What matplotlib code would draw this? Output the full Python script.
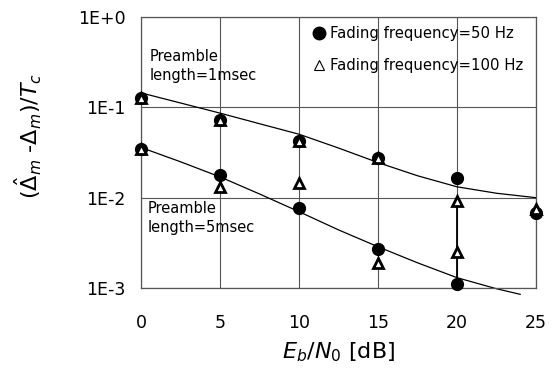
import numpy as np
import matplotlib.pyplot as plt
from matplotlib.lines import Line2D

plt.rcParams['font.family'] = ['DejaVu Sans']
plt.rcParams['mathtext.fontset'] = 'dejavusans'

# Eb/N0 [dB]
snr = [0, 5, 10, 15, 20, 25]
snr_5ms = [0, 5, 10, 15, 20]

# measured points, preamble 1 msec
f50_1ms = [0.127, 0.072, 0.042, 0.0275, 0.0165, 0.0068]
f100_1ms = [0.127, 0.072, 0.042, 0.0275, 0.0092, 0.0075]

# measured points, preamble 5 msec
f50_5ms = [0.035, 0.0178, 0.0077, 0.0027, 0.0011]
f100_5ms = [0.035, 0.0132, 0.0145, 0.0019, 0.0025]

# theory curves
fit_x_1ms = [0, 2.5, 5, 7.5, 10, 12.5, 15, 17.5, 20, 22.5, 25]
fit_1ms = [0.145, 0.112, 0.0865, 0.066, 0.0505, 0.0355, 0.0245, 0.0175, 0.0132, 0.0112, 0.0100]
fit_x_5ms = [0, 2.5, 5, 7.5, 10, 12.5, 15, 17.5, 20, 22.5, 24]
fit_5ms = [0.036, 0.025, 0.017, 0.011, 0.0070, 0.0044, 0.00286, 0.0019, 0.0013, 0.00098, 0.00085]

ytick_vals = [1e-3, 1e-2, 1e-1, 1e0]
ytick_labels = ['1E-3', '1E-2', '1E-1', '1E+0']

fig = plt.figure(figsize=(5.54, 3.73), dpi=100)
ax = fig.add_axes([0.2545, 0.228, 0.713, 0.726])

ax.plot(fit_x_1ms, fit_1ms, c='black', lw=0.9)
ax.plot(fit_x_5ms, fit_5ms, c='black', lw=0.9, clip_on=False)
# darker segment on the 20 dB line
ax.vlines(20, f50_5ms[-1], f100_1ms[4], color='black', lw=1.3, zorder=3)

circ = dict(marker='o', ls='none', ms=8.5, mfc='black', mec='black', clip_on=False, zorder=4)
tri = dict(marker='^', ls='none', ms=7.5, mfc='white', mec='black', mew=2, clip_on=False, zorder=5)
ax.plot(snr, f50_1ms, **circ)
ax.plot(snr_5ms, f50_5ms, **circ)
ax.plot(snr, f100_1ms, **tri)
ax.plot(snr_5ms, f100_5ms, **tri)

ax.set_yscale('log')
ax.set_xlim(0, 25)
ax.set_ylim(1e-3, 1)
ax.set_xticks(snr)
ax.set_yticks(ytick_vals, ytick_labels)
ax.minorticks_off()
ax.tick_params(axis='x', length=0, pad=19, labelsize=12.5)
ax.tick_params(axis='y', length=0, pad=11, labelsize=12.5)
ax.grid(True, color='#555555', lw=0.8)
ax.set_axisbelow(True)
for s in ax.spines.values():
    s.set_color('#555555')
    s.set_linewidth(0.9)

ax.text(0.55, 0.29, 'Preamble\nlength=1msec', fontsize=10.5, va='center', linespacing=1.35)
ax.text(0.45, 0.0059, 'Preamble\nlength=5msec', fontsize=10.5, va='center', linespacing=1.35)

handles = [Line2D([], [], marker='o', ls='none', ms=9, mfc='black', mec='black'),
           Line2D([], [], marker='^', ls='none', ms=7, mfc='white', mec='black', mew=0.8)]
ax.legend(handles, ['Fading frequency=50 Hz', 'Fading frequency=100 Hz'],
          loc='upper left', bbox_to_anchor=(0.402, 1.015), frameon=False,
          fontsize=10.7, handlelength=0.8, handletextpad=0.3, labelspacing=1.1)

ax.set_xlabel(r'$E_b/N_0$ [dB]', fontsize=16, labelpad=6)
ax.set_ylabel(r'($\hat{\Delta}_m$ -$\Delta_m$)/$T_c$', fontsize=16)
ax.yaxis.set_label_coords(-0.245, 0.56)

fig.savefig('out.png', dpi=100)
